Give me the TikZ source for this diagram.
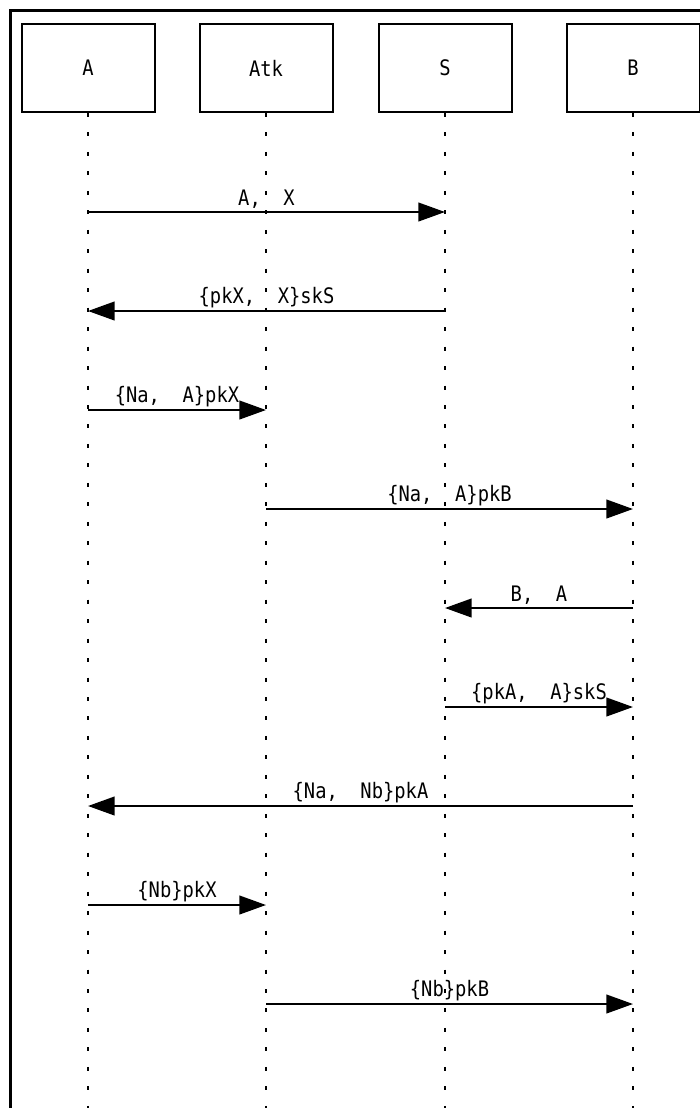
\documentclass[tikz,border=0pt]{standalone}
\usepackage{fontspec}
\newfontfamily\seqfont[FakeStretch=0.88]{DejaVu Sans Mono}
\usetikzlibrary{arrows.meta}

\begin{document}
\begin{tikzpicture}[x=0.75pt,y=-0.75pt,line width=1.5pt,
    actor/.style={draw,line width=1.5pt,minimum width=99.75pt,minimum height=66pt,
      font=\seqfont\fontsize{16}{18}\selectfont},
    lifeline/.style={line width=1.6pt,dash pattern=on 3pt off 11.6pt},
    msg/.style={-{Triangle[length=20pt,width=14pt]},line width=1.6pt},
    lbl/.style={above,inner sep=1.5pt,font=\seqfont\fontsize{16}{18}\selectfont}]
  \useasboundingbox (0,0) rectangle (700,1108);
  % cadre
  \draw[line width=2.25pt] (10,1108)--(10,10)--(700,10);
  % participants et lignes de vie
  \foreach \p/\x in {A/88,Atk/266,S/445,B/633}{
    \node[actor] (\p) at (\x,68) {\p};
    \draw[lifeline] (\p.south)--(\x,1108);
    \foreach \i in {1,...,9}
      \coordinate (\p\i) at (\x,{212+99*(\i-1)});
  }
  % messages
  \draw[msg] (A1)--node[lbl]{A, \ X}(S1);
  \draw[msg] (S2)--node[lbl]{\{pkX, \ X\}skS}(A2);
  \draw[msg] (A3)--node[lbl]{\{Na, \ A\}pkX}(Atk3);
  \draw[msg] (Atk4)--node[lbl]{\{Na, \ A\}pkB}(B4);
  \draw[msg] (B5)--node[lbl]{B, \ A}(S5);
  \draw[msg] (S6)--node[lbl]{\{pkA, \ A\}skS}(B6);
  \draw[msg] (B7)--node[lbl]{\{Na, \ Nb\}pkA}(A7);
  \draw[msg] (A8)--node[lbl]{\{Nb\}pkX}(Atk8);
  \draw[msg] (Atk9)--node[lbl]{\{Nb\}pkB}(B9);
\end{tikzpicture}
\end{document}
